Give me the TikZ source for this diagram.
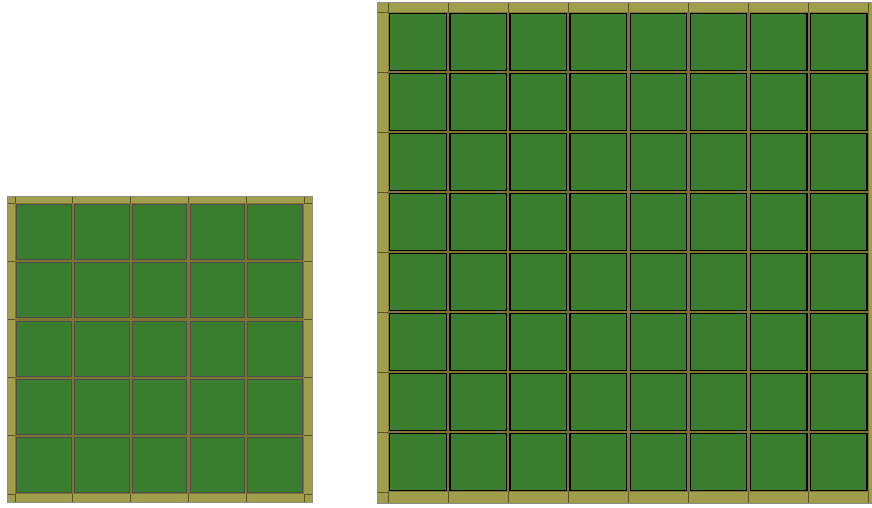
\documentclass[tikz,border=0pt]{standalone}
\definecolor{cellgreen}{HTML}{3B7D2F}
\definecolor{frameolive}{HTML}{A09E4A}
\definecolor{lineolive}{HTML}{7D7633}
\definecolor{seam}{HTML}{5A5520}
\tikzset{
  frame/.style={fill=frameolive, draw=black!45, line width=0.8},
  cellL/.style={fill=cellgreen, draw=black!70, line width=0.7},
  cellR/.style={fill=cellgreen, draw=black, line width=1.3},
  seamline/.style={draw=seam, line width=0.9}
}
\begin{document}
\begin{tikzpicture}[x=1pt,y=-1pt]
\useasboundingbox (0,0) rectangle (872,507);
% ---------- left 5x5 panel ----------
\path[frame] (7,196) rectangle (312,502);
\fill[lineolive] (15,203) rectangle (304,494);
\foreach \i in {0,...,4} \foreach \j in {0,...,4} {
  \path[cellL] ({15+57.8*\i+1.6},{203+58.2*\j+1.6}) rectangle ({15+57.8*(\i+1)-1.6},{203+58.2*(\j+1)-1.6});
}
\foreach \i in {0,...,5} {
  \path[seamline] ({15+57.8*\i},196.5) -- ({15+57.8*\i},203);
  \path[seamline] ({15+57.8*\i},494) -- ({15+57.8*\i},501.5);
  \path[seamline] (7.5,{203+58.2*\i}) -- (15,{203+58.2*\i});
  \path[seamline] (304,{203+58.2*\i}) -- (311.5,{203+58.2*\i});
}
% ---------- right 8x8 panel ----------
\path[frame] (377,2) rectangle (873,503);
\fill[lineolive] (388,12) rectangle (869,492);
\foreach \i in {0,...,7} \foreach \j in {0,...,7} {
  \path[cellR] ({388+60.1*\i+1.8},{12+60*\j+1.8}) rectangle ({388+60.1*(\i+1)-1.8},{12+60*(\j+1)-1.8});
}
\foreach \i in {0,...,8} {
  \path[seamline] ({388+60.1*\i},2.5) -- ({388+60.1*\i},12);
  \path[seamline] ({388+60.1*\i},492) -- ({388+60.1*\i},502.5);
  \path[seamline] (377.5,{12+60*\i}) -- (388,{12+60*\i});
}
\end{tikzpicture}
\end{document}
